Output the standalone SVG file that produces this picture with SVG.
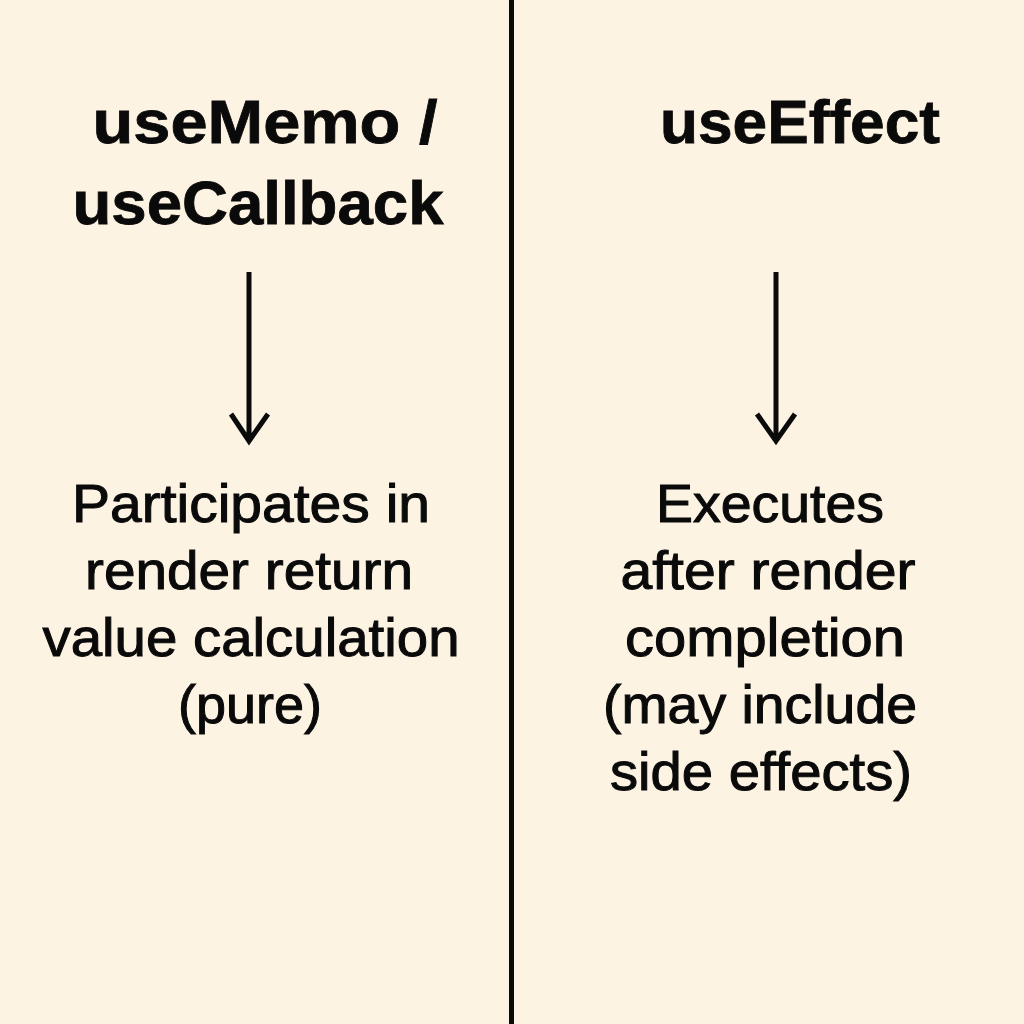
<svg xmlns="http://www.w3.org/2000/svg" width="1024" height="1024" viewBox="0 0 1024 1024">
<style>
.h{font-family:"Liberation Sans",Arial,sans-serif;font-weight:bold;font-size:62px;fill:#0a0a0a;stroke:#0a0a0a;stroke-width:0.8;text-anchor:middle}
.b{font-family:"Liberation Sans",Arial,sans-serif;font-size:53px;fill:#0a0a0a;stroke:#0a0a0a;stroke-width:1;text-anchor:middle}
.c{stroke:#0a0a0a;stroke-width:5;fill:none}
</style>
<rect width="1024" height="1024" fill="#FDF3E3"/>
<line x1="511.5" y1="0" x2="511.5" y2="1024" stroke="#0a0a0a" stroke-width="5"/>
<g id="useMemo">
<text class="h" x="265" y="143" textLength="345" lengthAdjust="spacingAndGlyphs">useMemo /</text>
<text class="h" x="258" y="224" textLength="371" lengthAdjust="spacingAndGlyphs">useCallback</text>
</g>
<g id="useEffect">
<text class="h" x="800" y="143" textLength="280" lengthAdjust="spacingAndGlyphs">useEffect</text>
</g>
<g id="pure">
<text class="b" x="251" y="522" textLength="358" lengthAdjust="spacingAndGlyphs">Participates in</text>
<text class="b" x="249" y="589" textLength="328" lengthAdjust="spacingAndGlyphs">render return</text>
<text class="b" x="251" y="656" textLength="417" lengthAdjust="spacingAndGlyphs">value calculation</text>
<text class="b" x="250" y="723" textLength="144" lengthAdjust="spacingAndGlyphs">(pure)</text>
</g>
<g id="after">
<text class="b" x="770" y="522" textLength="228" lengthAdjust="spacingAndGlyphs">Executes</text>
<text class="b" x="768" y="589" textLength="295" lengthAdjust="spacingAndGlyphs">after render</text>
<text class="b" x="765" y="656" textLength="280" lengthAdjust="spacingAndGlyphs">completion</text>
<text class="b" x="760" y="723" textLength="314" lengthAdjust="spacingAndGlyphs">(may include</text>
<text class="b" x="761" y="790" textLength="302" lengthAdjust="spacingAndGlyphs">side effects)</text>
</g>
<g id="connectors">
<path class="c" d="M249 272 V441 M231 414 L249 441 L268 414"/>
<path class="c" d="M776 272 V441 M757 414 L776 441 L795 414"/>
</g>
</svg>
